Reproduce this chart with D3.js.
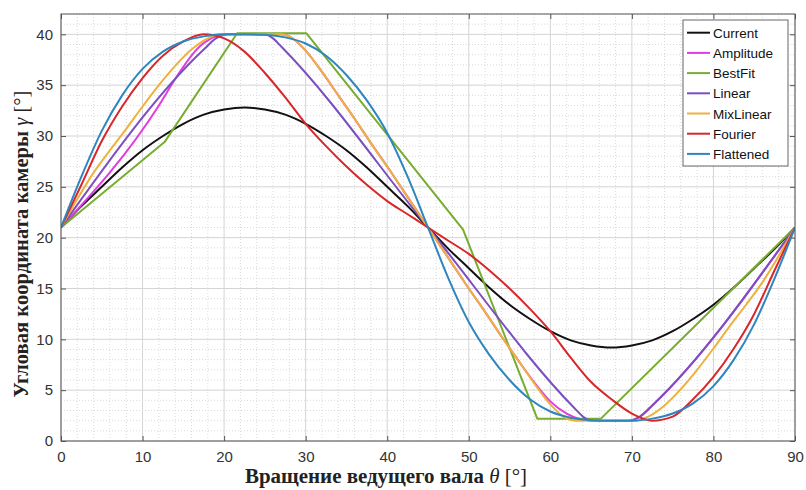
<!DOCTYPE html>
<html>
<head>
<meta charset="utf-8">
<script src="https://cdn.jsdelivr.net/npm/d3@7"></script>
<style>
  body { margin: 0; background: #fff; }
  svg { display: block; }
</style>
</head>
<body>
<script>
// Cam profiles: camera angle vs. drive shaft rotation

const seriesNames = ["Current", "Amplitude", "BestFit", "Linear", "MixLinear", "Fourier", "Flattened"];
const seriesColors = ["#111111", "#e03ce0", "#77ac30", "#7b4fc0", "#efb13c", "#d8262a", "#2f86bf"];

const xTicks = [0, 10, 20, 30, 40, 50, 60, 70, 80, 90];
const yTicks = [0, 5, 10, 15, 20, 25, 30, 35, 40];

// shared theta grid (2.5 deg step) for the smooth curves
const thetaFine = [0, 2.5, 5, 7.5, 10, 12.5, 15, 17.5, 20, 22.5, 25, 27.5, 30, 32.5, 35, 37.5, 40, 42.5, 45,
  47.5, 50, 52.5, 55, 57.5, 60, 62.5, 65, 67.5, 70, 72.5, 75, 77.5, 80, 82.5, 85, 87.5, 90];

const currentY = [21, 23.1, 25.0, 26.9, 28.6, 30.0, 31.2, 32.1, 32.6, 32.8, 32.6, 32.1, 31.2, 30.0, 28.6, 26.9, 25.0, 23.1, 21,
  18.9, 17.0, 15.1, 13.4, 12.0, 10.8, 9.9, 9.4, 9.2, 9.4, 9.9, 10.8, 12.0, 13.4, 15.1, 17.0, 18.9, 21];

const fourierY = [21, 25.2, 29.5, 32.9, 35.7, 37.9, 39.3, 40.0, 39.6, 38.3, 36.2, 33.8, 31.2, 29.0, 27.0, 25.2, 23.6, 22.3, 21,
  19.7, 18.4, 16.8, 15.0, 13.0, 10.8, 8.2, 5.8, 4.1, 2.7, 2.0, 2.4, 4.1, 6.3, 9.1, 12.5, 16.8, 21];

const flattenedY = [21, 26.0, 30.5, 34.0, 36.6, 38.3, 39.3, 39.8, 40, 40, 39.95, 39.7, 39.1, 37.9, 36.0, 33.5, 30.3, 26.0, 21,
  16.0, 11.7, 8.5, 6.0, 4.1, 2.9, 2.3, 2.05, 2.0, 2.0, 2.2, 2.7, 3.7, 5.4, 8.0, 11.5, 16.0, 21];

// piecewise profiles, each with its own theta points
const bestFitX = [0, 12.7, 21.6, 30.1, 49.3, 58.4, 66.2, 90];
const bestFitY = [21, 29.4, 40.1, 40.1, 20.8, 2.2, 2.2, 21];

const linearX = [0, 17.5, 19, 20.5, 25, 26, 27, 45, 63, 64, 65, 69.5, 71, 72.5, 90];
const linearY = [21, 38.5, 39.6, 40, 40, 39.6, 38.8, 21, 3.2, 2.4, 2.0, 2.0, 2.4, 3.5, 21];

const mixLinearX = [0, 2, 4, 6, 8, 10, 12, 14, 16, 18, 19.5, 27, 28, 30, 32, 34, 36, 38, 40, 42, 44, 45,
  46, 48, 50, 52, 54, 56, 58, 60, 62, 63, 70.5, 72, 74, 76, 78, 80, 82, 84, 86, 88, 90];
const mixLinearY = [21, 23.8, 26.4, 28.6, 30.7, 32.9, 35.0, 36.9, 38.5, 39.6, 40, 40, 39.8, 38.4, 36.3, 34.0, 31.7, 29.3, 27.0, 24.6, 22.2, 21,
  19.8, 17.4, 15.0, 12.7, 10.3, 8.0, 5.7, 3.6, 2.2, 2.0, 2.0, 2.4, 3.5, 5.1, 7.0, 9.1, 11.3, 13.4, 15.6, 18.2, 21];

const amplitudeX = [0, 12, 14, 15, 16, 17, 18, 19, 20.5, 27, 28, 30, 32, 34, 36, 38, 40, 42, 44, 45,
  46, 48, 50, 52, 54, 56, 58, 60, 62, 63.5, 65, 69.5, 71, 72.5, 90];
const amplitudeY = [21, 33, 35.6, 36.8, 37.9, 38.8, 39.4, 39.8, 40, 40, 39.8, 38.4, 36.3, 34.0, 31.7, 29.3, 27.0, 24.6, 22.2, 21,
  19.8, 17.4, 15.0, 12.7, 10.3, 8.0, 5.8, 3.9, 2.7, 2.2, 2.0, 2.0, 2.4, 3.5, 21];

const series = [
  { x: thetaFine, y: currentY, curve: d3.curveMonotoneX },
  { x: amplitudeX, y: amplitudeY, curve: d3.curveMonotoneX },
  { x: bestFitX, y: bestFitY, curve: d3.curveLinear },
  { x: linearX, y: linearY, curve: d3.curveMonotoneX },
  { x: mixLinearX, y: mixLinearY, curve: d3.curveMonotoneX },
  { x: thetaFine, y: fourierY, curve: d3.curveMonotoneX },
  { x: thetaFine, y: flattenedY, curve: d3.curveMonotoneX }
];

const width = 806, height = 490;
const margin = { top: 14, right: 11, bottom: 49, left: 61 };
const innerW = width - margin.left - margin.right;
const innerH = height - margin.top - margin.bottom;

const svg = d3.select("body").append("svg")
  .attr("width", width)
  .attr("height", height)
  .style("background", "#fff");

const x = d3.scaleLinear().domain([0, 90]).range([0, innerW]);
const y = d3.scaleLinear().domain([0, 42]).range([innerH, 0]);

const g = svg.append("g").attr("transform", `translate(${margin.left},${margin.top})`);

// minor grid
g.append("g").selectAll("line")
  .data(d3.range(0, 91, 2).filter(d => d % 10 !== 0))
  .join("line")
  .attr("x1", d => x(d)).attr("x2", d => x(d))
  .attr("y1", 0).attr("y2", innerH)
  .attr("stroke", "#dadada").attr("stroke-dasharray", "1,2");
g.append("g").selectAll("line")
  .data(d3.range(0, 43, 1).filter(d => d % 5 !== 0))
  .join("line")
  .attr("x1", 0).attr("x2", innerW)
  .attr("y1", d => y(d)).attr("y2", d => y(d))
  .attr("stroke", "#dadada").attr("stroke-dasharray", "1,2");

// major grid
g.append("g").selectAll("line")
  .data(xTicks)
  .join("line")
  .attr("x1", d => x(d)).attr("x2", d => x(d))
  .attr("y1", 0).attr("y2", innerH)
  .attr("stroke", "#d4d4d4");
g.append("g").selectAll("line")
  .data(yTicks)
  .join("line")
  .attr("x1", 0).attr("x2", innerW)
  .attr("y1", d => y(d)).attr("y2", d => y(d))
  .attr("stroke", "#d4d4d4");

// axes, ticks pointing inward on every side
const axisFont = "'Liberation Sans', Arial, sans-serif";
function styleAxis(sel) {
  sel.select(".domain").remove();
  sel.selectAll(".tick line").attr("stroke", "#555");
  sel.selectAll(".tick text")
    .attr("fill", "#333")
    .style("font-family", axisFont)
    .style("font-size", "15px");
}

g.append("g")
  .attr("transform", `translate(0,${innerH})`)
  .call(d3.axisBottom(x).tickValues(xTicks).tickSizeInner(-5).tickSizeOuter(0).tickPadding(10))
  .call(styleAxis);
g.append("g")
  .call(d3.axisLeft(y).tickValues(yTicks).tickSizeInner(-5).tickSizeOuter(0).tickPadding(8))
  .call(styleAxis);
g.append("g")
  .call(d3.axisTop(x).tickValues(xTicks).tickSizeInner(-5).tickSizeOuter(0).tickFormat(""))
  .call(styleAxis);
g.append("g")
  .attr("transform", `translate(${innerW},0)`)
  .call(d3.axisRight(y).tickValues(yTicks).tickSizeInner(-5).tickSizeOuter(0).tickFormat(""))
  .call(styleAxis);

// lines
g.append("clipPath").attr("id", "plotClip")
  .append("rect").attr("width", innerW).attr("height", innerH);

g.append("g").attr("clip-path", "url(#plotClip)")
  .selectAll("path")
  .data(series)
  .join("path")
  .attr("fill", "none")
  .attr("stroke", (d, i) => seriesColors[i])
  .attr("stroke-width", 2)
  .attr("stroke-linejoin", "round")
  .attr("d", s => d3.line()
    .x((d, i) => x(s.x[i]))
    .y(d => y(d))
    .curve(s.curve)(s.y));

// box
g.append("rect")
  .attr("width", innerW).attr("height", innerH)
  .attr("fill", "none").attr("stroke", "#555");

// legend
const legend = svg.append("g").attr("transform", "translate(683,20)");
legend.append("rect")
  .attr("width", 105).attr("height", 146)
  .attr("fill", "#fff").attr("stroke", "#666");
const items = legend.selectAll("g.item")
  .data(seriesNames)
  .join("g")
  .attr("class", "item")
  .attr("transform", (d, i) => `translate(0,${12.7 + i * 20.2})`);
items.append("line")
  .attr("x1", 4).attr("x2", 27)
  .attr("stroke", (d, i) => seriesColors[i])
  .attr("stroke-width", 2);
items.append("text")
  .attr("x", 30).attr("y", 5)
  .style("font-family", axisFont)
  .style("font-size", "13.5px")
  .attr("fill", "#111")
  .text(d => d);

// axis titles
const serif = "'Liberation Serif', 'Times New Roman', serif";
const xLabel = svg.append("text")
  .attr("x", 386).attr("y", 483)
  .attr("text-anchor", "middle")
  .attr("textLength", 282)
  .attr("lengthAdjust", "spacingAndGlyphs")
  .style("font-family", serif)
  .style("font-size", "20px")
  .style("font-weight", "bold")
  .attr("fill", "#222");
xLabel.append("tspan").text("Вращение ведущего вала ");
xLabel.append("tspan").style("font-style", "italic").style("font-weight", "normal").text("θ");
xLabel.append("tspan").style("font-weight", "normal").text(" [°]");

const yLabel = svg.append("text")
  .attr("transform", "translate(28,244) rotate(-90)")
  .attr("text-anchor", "middle")
  .attr("textLength", 307)
  .attr("lengthAdjust", "spacingAndGlyphs")
  .style("font-family", serif)
  .style("font-size", "20px")
  .style("font-weight", "bold")
  .attr("fill", "#222");
yLabel.append("tspan").text("Угловая координата камеры ");
yLabel.append("tspan").style("font-style", "italic").style("font-weight", "normal").text("γ");
yLabel.append("tspan").style("font-weight", "normal").text(" [°]");
</script>
</body>
</html>
